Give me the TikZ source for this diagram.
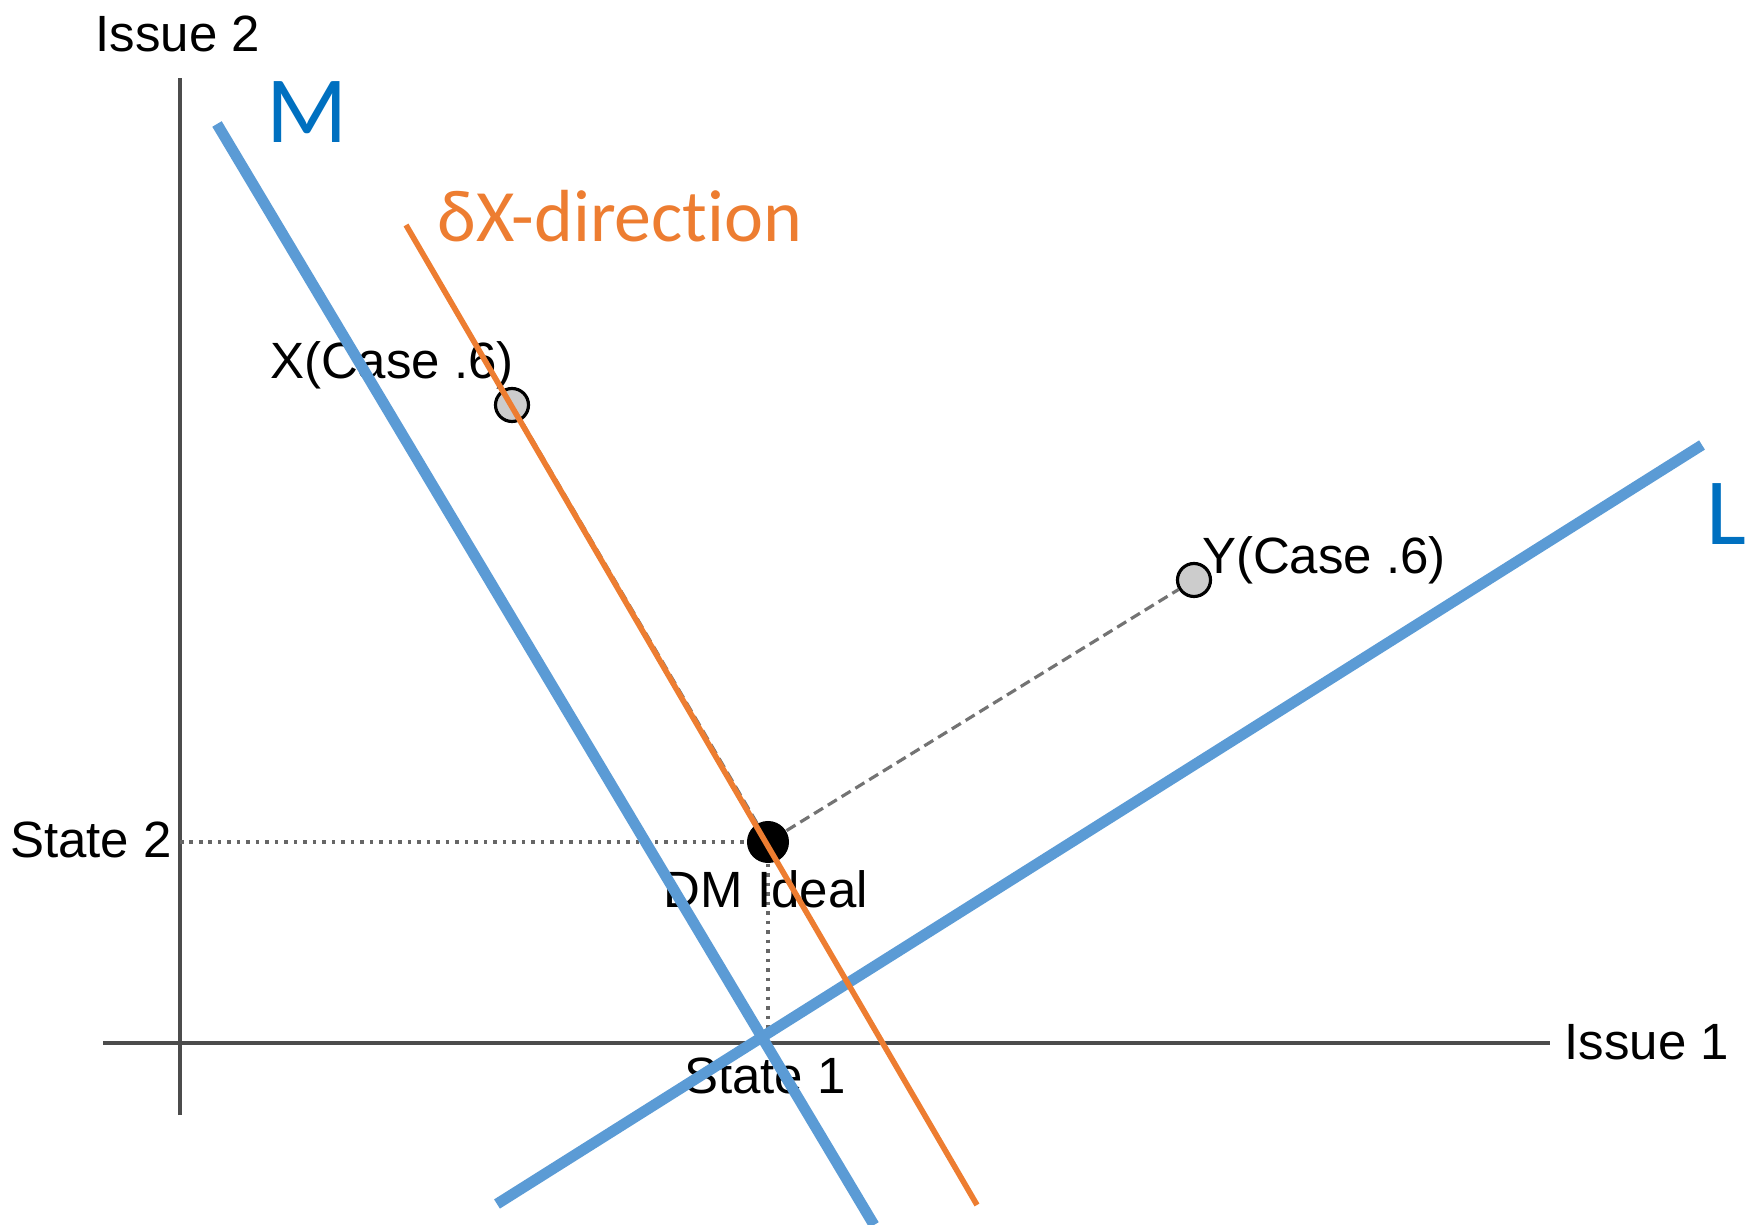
\documentclass[tikz,border=0pt]{standalone}
\usepackage{fontspec}
\setmainfont{Liberation Sans}
\newfontfamily\calibri[Ligatures=NoCommon]{Carlito}
\definecolor{lineblue}{RGB}{91,155,213}
\definecolor{labelblue}{RGB}{0,112,192}
\definecolor{dirorange}{RGB}{237,125,49}

\begin{document}
\begin{tikzpicture}[x=0.01cm,y=-0.01cm,
    axis/.style={draw=black!70,line width=0.9pt},
    guide/.style={draw=black!60,line width=1pt,dash pattern=on 1pt off 1.7pt},
    link/.style={draw=black!55,line width=0.9pt,dash pattern=on 3pt off 1.6pt},
    casept/.style={circle,draw,line width=0.9pt,fill=black!20,minimum size=3.3mm,inner sep=0pt},
    idealpt/.style={circle,fill=black,minimum size=4.2mm,inner sep=0pt},
    lbl/.style={inner sep=0pt,font=\fontsize{14.5pt}{17pt}\selectfont},
    bigl/.style={inner sep=0pt,text=labelblue,font=\calibri\fontsize{27pt}{30pt}\selectfont},
    spatial/.style={draw=lineblue,line width=3.1pt},
    dirline/.style={draw=dirorange,line width=1.6pt}]
  \useasboundingbox (0,0) rectangle (1748,1225);
  % axes
  \coordinate (o1) at (103,1043); \coordinate (e1) at (1550,1043);
  \coordinate (o2) at (180,1115); \coordinate (e2) at (180,78);
  \draw[axis] (o1) -- (e1); \draw[axis] (o2) -- (e2);
  % ideal point and cases
  \coordinate (s2) at (180,842); \coordinate (s1) at (768,1043);
  \node[idealpt] (dm) at (768,842) {};
  \node[casept] (x) at (512,405) {};
  \node[casept] (y) at (1194,580) {};
  \draw[guide] (s2) -- (dm); \draw[guide] (dm) -- (s1);
  \draw[link] (dm) -- (y); \draw[link] (dm) -- (x);
  % labels
  \node[lbl] (i2) at (178,34) {Issue 2};
  \node[lbl] (i1) at (1647,1042) {Issue 1};
  \node[lbl] (st2) at (91,840) {State 2};
  \node[lbl] (st1) at (765,1076) {State 1};
  \node[lbl] (dml) at (766,889) {DM Ideal};
  \node[lbl] (xl) at (392,365) {X(Case .6)};
  \node[lbl] (yl) at (1324,560) {Y(Case .6)};
  \node[bigl] (ml) at (307,112) {M};
  \node[bigl] (ll) at (1726,514) {L};
  \node[inner sep=0pt,text=dirorange,font=\calibri\fontsize{21pt}{24pt}\selectfont] (dl) at (620,216) {δX-direction};
  % M, L and the direction of X
  \coordinate (m0) at (217,124); \coordinate (m1) at (874,1225);
  \coordinate (l0) at (497,1204); \coordinate (l1) at (1702,445);
  \coordinate (d0) at (406,225); \coordinate (d1) at (977,1205);
  \draw[spatial] (m0) -- (m1); \draw[spatial] (l0) -- (l1);
  \draw[dirline] (d0) -- (d1);
\end{tikzpicture}
\end{document}
